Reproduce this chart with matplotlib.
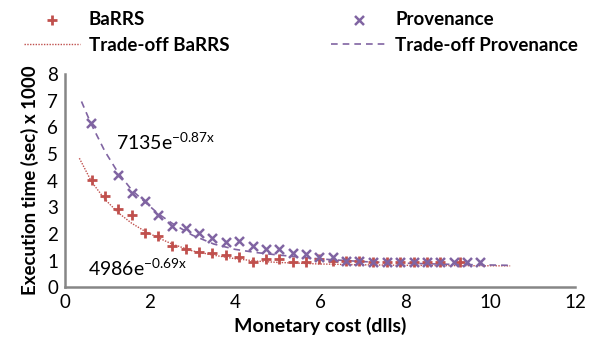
import matplotlib

matplotlib.use("Agg")
import matplotlib.pyplot as plt

plt.rcParams["font.family"] = ["Lato", "DejaVu Sans"]

RED = "#c0504d"
PURPLE = "#8064a2"
GREY = "#868686"

# scatter points
barrs_x = [0.63, 0.94, 1.25, 1.57, 1.88, 2.20, 2.52, 2.84, 3.15, 3.47, 3.78, 4.10,
           4.42, 4.73, 5.04, 5.36, 5.67, 5.98, 6.30, 6.61, 6.92, 7.25, 7.57, 7.88,
           8.20, 8.51, 8.82, 9.30]
barrs_y = [4.02, 3.42, 2.92, 2.71, 2.02, 1.92, 1.54, 1.42, 1.33, 1.29, 1.20, 1.14,
           0.93, 1.04, 1.04, 0.93, 0.93, 1.04, 0.98, 1.00, 1.00, 0.93, 0.93, 0.93,
           0.93, 0.93, 0.93, 0.93]

prov_x = [0.61, 1.25, 1.57, 1.88, 2.20, 2.52, 2.84, 3.15, 3.47, 3.78, 4.10, 4.42,
          4.73, 5.04, 5.36, 5.67, 5.98, 6.30, 6.61, 6.92, 7.25, 7.57, 7.88, 8.20,
          8.51, 8.82, 9.14, 9.45, 9.76]
prov_y = [6.18, 4.21, 3.52, 3.24, 2.71, 2.31, 2.23, 2.02, 1.83, 1.70, 1.73, 1.54,
          1.42, 1.42, 1.29, 1.23, 1.12, 1.12, 0.98, 0.98, 0.93, 0.93, 0.93, 0.93,
          0.93, 0.93, 0.93, 0.93, 0.93]

# trade-off (trendline) curves
trend_barrs_x = [0.34, 0.63, 0.94, 1.25, 1.57, 1.88, 2.20, 2.52, 3.0, 3.5, 4.0,
                 4.5, 5.0, 6.0, 7.0, 8.0, 9.0, 10.47]
trend_barrs_y = [4.84, 3.95, 3.30, 2.80, 2.40, 2.10, 1.85, 1.62, 1.36, 1.20, 1.07,
                 0.98, 0.93, 0.87, 0.84, 0.82, 0.81, 0.80]

trend_prov_x = [0.39, 0.61, 0.94, 1.25, 1.57, 1.88, 2.20, 2.52, 3.0, 3.5, 4.0,
                4.5, 5.0, 6.0, 7.0, 8.0, 9.0, 10.47]
trend_prov_y = [6.97, 6.15, 5.10, 4.30, 3.65, 3.20, 2.75, 2.40, 1.95, 1.62, 1.42,
                1.30, 1.21, 1.06, 0.96, 0.90, 0.86, 0.82]

fig = plt.figure(figsize=(5.9, 3.46), dpi=100)
ax = fig.add_axes([0.110, 0.170, 0.865, 0.616])

ax.plot(trend_barrs_x, trend_barrs_y, linestyle=(0, (1, 1)), color=RED, lw=1.0,
        label="Trade-off BaRRS")
ax.plot(trend_prov_x, trend_prov_y, linestyle=(0, (4, 3)), color=PURPLE, lw=1.2,
        label="Trade-off Provenance")
ax.scatter(barrs_x, barrs_y, marker="+", s=50, color=RED, linewidths=2.0,
           label="BaRRS", zorder=3)
ax.scatter(prov_x, prov_y, marker="x", s=42, color=PURPLE, linewidths=1.8,
           label="Provenance", zorder=3)

ax.text(1.2, 5.45, r"7135e$^{\mathregular{-0.87x}}$", fontsize=14, va="center")
ax.text(0.54, 0.72, r"4986e$^{\mathregular{-0.69x}}$", fontsize=14, va="center")

ax.set_xlim(0, 12)
ax.set_ylim(0, 8)
ax.set_xticks(range(0, 13, 2))
ax.set_yticks(range(0, 9))
ax.tick_params(length=0, labelsize=13.5, pad=5, colors="black")
for side in ("top", "right"):
    ax.spines[side].set_visible(False)
for side in ("left", "bottom"):
    ax.spines[side].set_color(GREY)
    ax.spines[side].set_linewidth(1.8)

ax.set_xlabel("Monetary cost (dlls)", fontsize=14, fontweight="bold", labelpad=4)
ax.set_ylabel("Execution time (sec) x 1000", fontsize=13.5, fontweight="bold",
              labelpad=6)

h, l = ax.get_legend_handles_labels()
order = [l.index(n) for n in ("BaRRS", "Trade-off BaRRS", "Provenance",
                              "Trade-off Provenance")]
fig.legend([h[i] for i in order], [l[i] for i in order], loc="upper left",
           bbox_to_anchor=(0.025, 0.995), ncol=2, frameon=False, borderpad=0,
           handlelength=3.0, handletextpad=0.45, columnspacing=5.4,
           labelspacing=0.45, prop={"weight": "bold", "size": 13.5})

fig.savefig("out.png", dpi=100)
